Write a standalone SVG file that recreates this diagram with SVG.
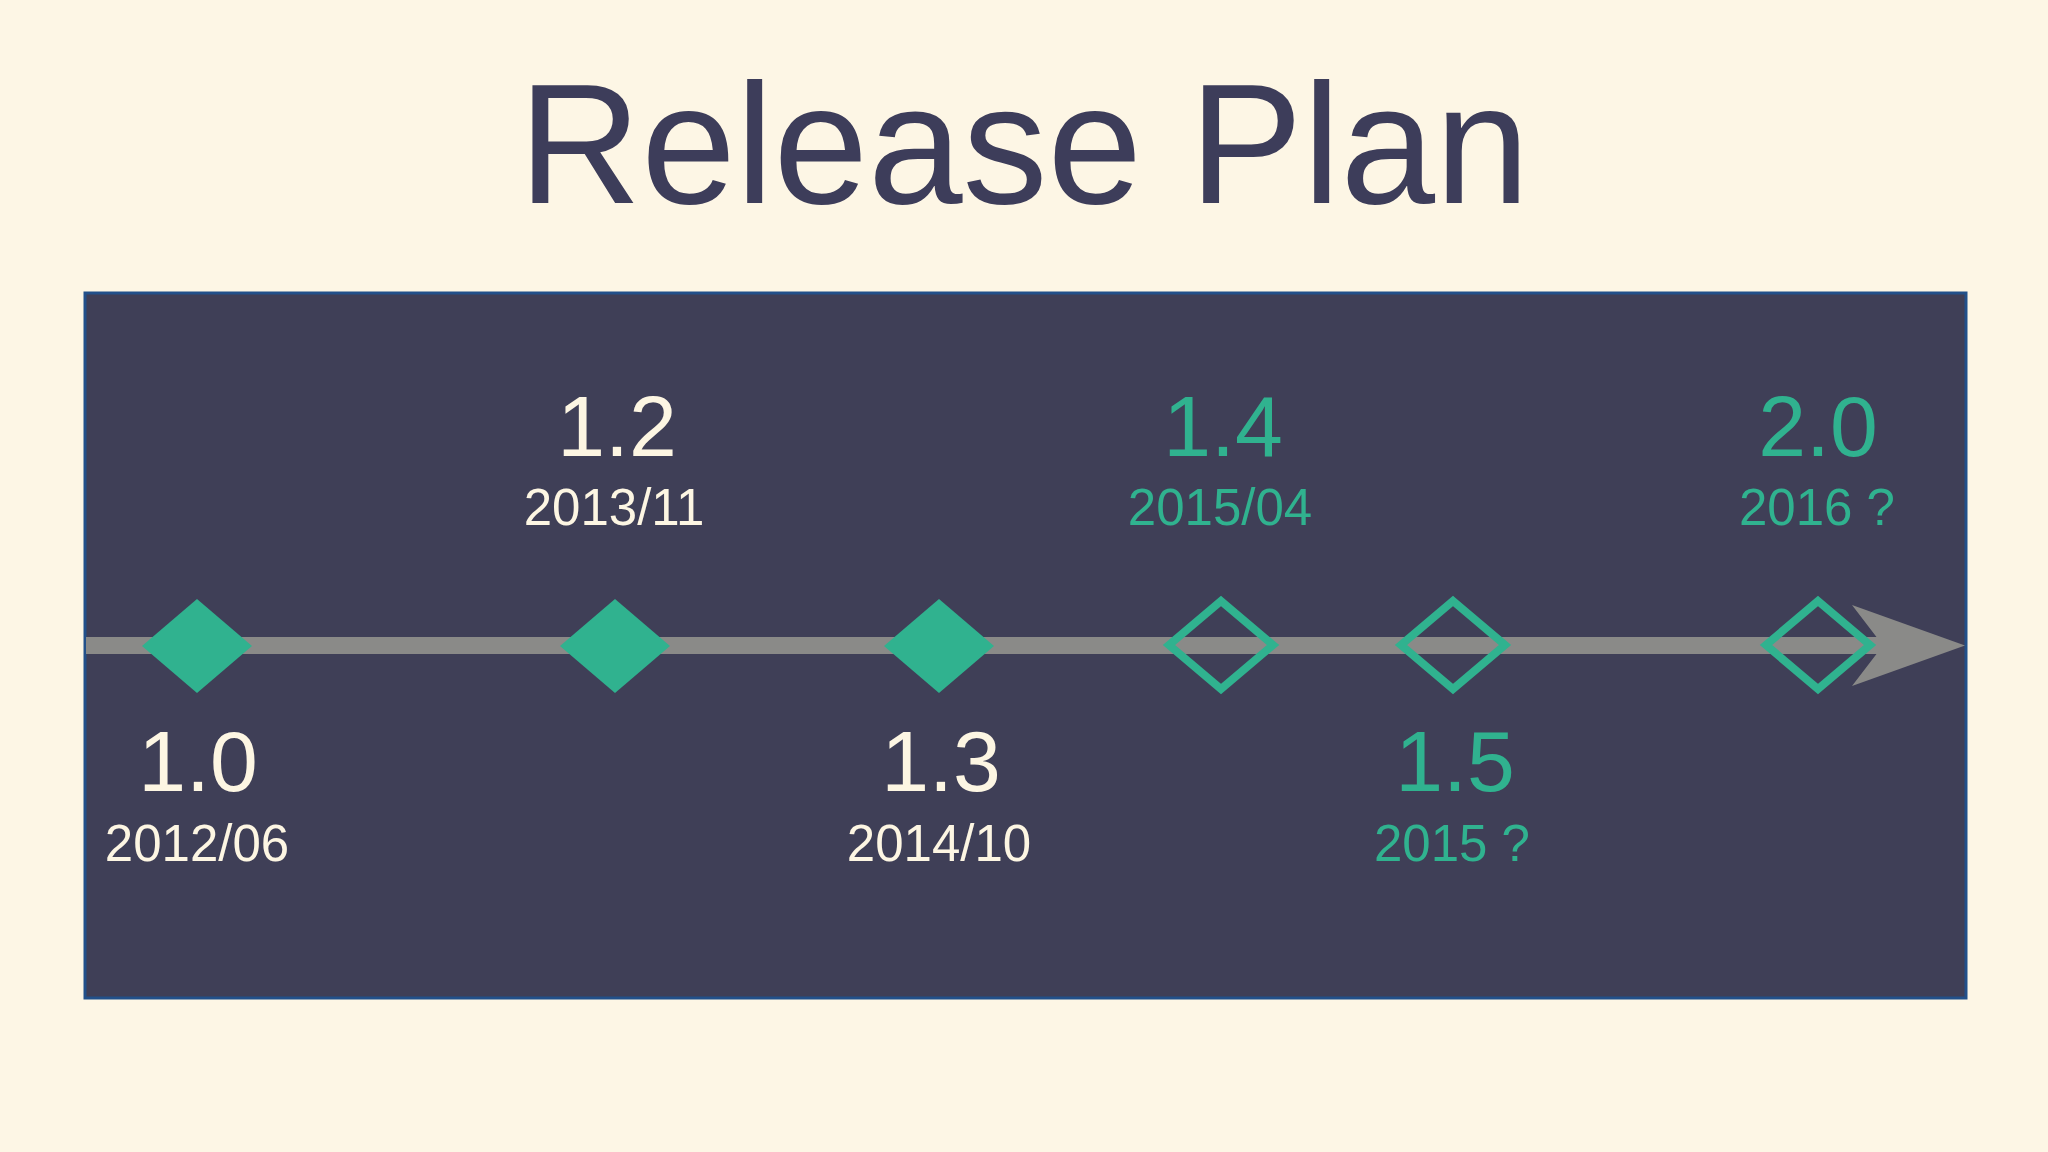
<svg xmlns="http://www.w3.org/2000/svg" width="2048" height="1152" viewBox="0 0 2048 1152">
<style>
text{font-family:"Liberation Sans",Arial,sans-serif;text-anchor:middle}
.title{font-size:170px;fill:#3d3d5a}
.ver{font-size:86px}
.date{font-size:51px}
.done{fill:#fdf6e3}
.plan{fill:#30b28f}
.fd{fill:#30b28f}
.od{fill:none;stroke:#30b28f;stroke-width:8;stroke-linejoin:miter}
</style>
<defs>
<path id="dia" d="M0,-47 L55,0 L0,47 L-55,0 Z"/>
<path id="odia" d="M0,-44 L52,0 L0,44 L-52,0 Z"/>
</defs>
<rect width="2048" height="1152" fill="#fdf6e5"/>
<text class="title" x="1024" y="203">Release Plan</text>
<rect id="panel" x="85" y="293" width="1881" height="705" fill="#3f3f57" stroke="#22508a" stroke-width="3"/>
<g id="connectors">
<rect x="86" y="637" width="1800" height="17" fill="#8a8a88"/>
<polygon points="1965,645.5 1852,605 1883,645.5 1852,686" fill="#8a8a88"/>
</g>
<g id="n10"><use href="#dia" class="fd" x="197" y="646"/><text class="ver done" x="198" y="791">1.0</text><text class="date done" x="197" y="861">2012/06</text></g>
<g id="n12"><use href="#dia" class="fd" x="615" y="646"/><text class="ver done" x="617" y="456">1.2</text><text class="date done" x="614" y="525">2013/11</text></g>
<g id="n13"><use href="#dia" class="fd" x="939" y="646"/><text class="ver done" x="941" y="791">1.3</text><text class="date done" x="939" y="861">2014/10</text></g>
<g id="n14"><use href="#odia" class="od" x="1221" y="645"/><text class="ver plan" x="1223" y="456">1.4</text><text class="date plan" x="1220" y="525">2015/04</text></g>
<g id="n15"><use href="#odia" class="od" x="1453" y="645"/><text class="ver plan" x="1455" y="791">1.5</text><text class="date plan" x="1452" y="861">2015 ?</text></g>
<g id="n20"><use href="#odia" class="od" x="1818" y="645"/><text class="ver plan" x="1818" y="456">2.0</text><text class="date plan" x="1817" y="525">2016 ?</text></g>
</svg>
